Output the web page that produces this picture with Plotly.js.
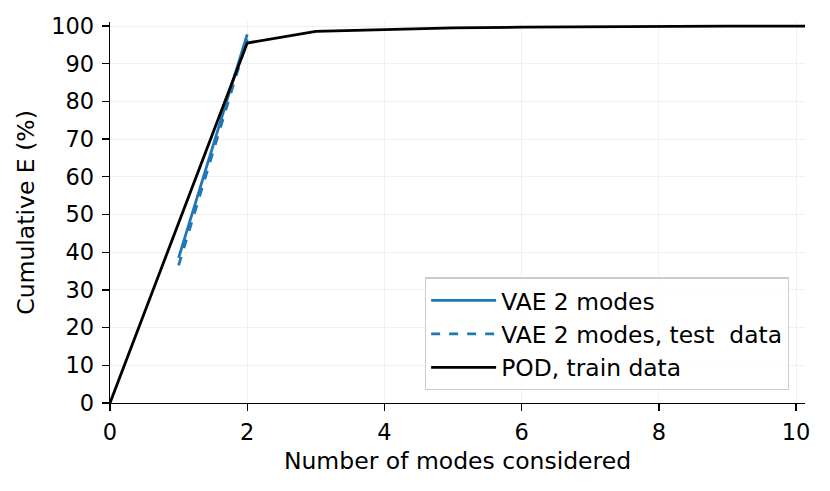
<!DOCTYPE html>
<html><head><meta charset="utf-8">
<script src="https://cdn.plot.ly/plotly-3.0.1.min.js"></script>
<style>html,body{margin:0;padding:0;background:#fff}</style>
</head><body>
<div id="chart" style="width:830px;height:491px"></div>
<script>
const vaeX = [1, 2];
const vaeTrain = [38.5, 97.8];
const vaeTest = [36.5, 96.5];
const podX = [0, 1, 2, 3, 4, 5, 6, 7, 8, 9, 10, 11];
const podE = [0, 48, 95.5, 98.6, 99.1, 99.5, 99.7, 99.85, 99.9, 99.95, 100, 100];
const xTicks = [0, 2, 4, 6, 8, 10];
const yTicks = [0, 10, 20, 30, 40, 50, 60, 70, 80, 90, 100];

const tickFont = {family: 'DejaVu Sans, sans-serif', size: 22.5, color: '#000'};
const titleFont = {family: 'DejaVu Sans, sans-serif', size: 23.5, color: '#000'};
const traces = [
  {x: vaeX, y: vaeTrain, mode: 'lines', name: 'VAE 2 modes', legendgroup: 'a',
   line: {color: '#1f77b4', width: 2.8}},
  {x: vaeX, y: vaeTest, mode: 'lines', name: 'VAE 2 modes, test  data', legendgroup: 'b',
   line: {color: '#1f77b4', width: 2.8, dash: 'dash'}},
  {x: podX, y: podE, mode: 'lines', name: 'POD, train data', legendgroup: 'c',
   line: {color: '#000', width: 2.8}}
];
const layout = {
  width: 830, height: 491,
  margin: {l: 110, r: 25, t: 22, b: 88, pad: 0},
  paper_bgcolor: '#fff', plot_bgcolor: '#fff',
  font: tickFont,
  showlegend: true,
  legend: {x: 0.453, y: 0.033, xanchor: 'left', yanchor: 'bottom',
           bgcolor: 'rgba(255,255,255,0.8)', bordercolor: '#cccccc', borderwidth: 1.3,
           font: {family: 'DejaVu Sans, sans-serif', size: 23.4, color: '#000'},
           traceorder: 'grouped', tracegroupgap: 0, itemwidth: 65,
           entrywidth: 297, entrywidthmode: 'pixels'},
  xaxis: {range: [0, 10.13], tickvals: xTicks, ticktext: xTicks.map(String),
          showline: true, linecolor: '#000', linewidth: 1.3,
          ticks: 'outside', ticklen: 7, tickwidth: 1.3, tickcolor: '#000',
          ticklabelstandoff: 2, tickfont: tickFont,
          showgrid: true, gridcolor: '#f0f0f0', gridwidth: 1, zeroline: false,
          title: {text: 'Number of modes considered', font: titleFont, standoff: 8}},
  yaxis: {range: [0, 101.07], tickvals: yTicks, ticktext: yTicks.map(String),
          showline: true, linecolor: '#000', linewidth: 1.3,
          ticks: 'outside', ticklen: 7, tickwidth: 1.3, tickcolor: '#000',
          ticklabelstandoff: 3, tickfont: tickFont,
          showgrid: true, gridcolor: '#f0f0f0', gridwidth: 1, zeroline: false,
          title: {text: 'Cumulative E (%)', font: titleFont, standoff: 10}}
};
Plotly.newPlot('chart', traces, layout, {displayModeBar: false, staticPlot: true});
</script>
</body></html>
